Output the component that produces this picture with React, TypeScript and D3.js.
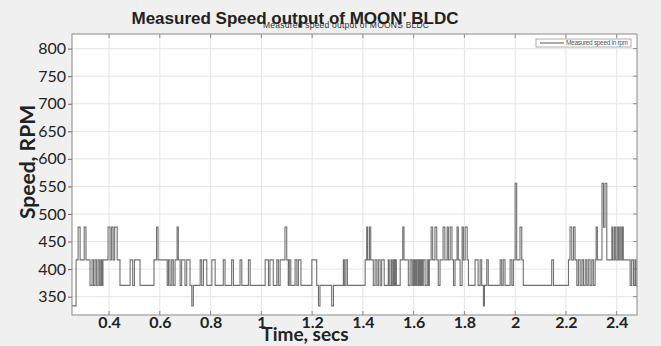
import React, { useRef, useEffect } from 'react'
import * as d3 from 'd3'

// step change points (seconds, rpm)
const times = [
  0.254, 0.270, 0.278, 0.286, 0.302, 0.309, 0.325, 0.333, 0.339, 0.345, 0.351, 0.357, 0.363, 0.368, 0.372, 0.376,
  0.396, 0.404, 0.410, 0.416, 0.422, 0.432, 0.443, 0.483, 0.493, 0.500, 0.522, 0.577, 0.587, 0.593, 0.629, 0.634,
  0.640, 0.647, 0.653, 0.660, 0.668, 0.673, 0.680, 0.686, 0.699, 0.706, 0.719, 0.726, 0.732, 0.759, 0.765, 0.772,
  0.785, 0.805, 0.818, 0.850, 0.857, 0.883, 0.890, 0.916, 0.923, 0.949, 0.956, 1.015, 1.028, 1.034, 1.047, 1.061,
  1.067, 1.074, 1.093, 1.100, 1.106, 1.110, 1.116, 1.133, 1.140, 1.146, 1.156, 1.199, 1.218, 1.225, 1.231, 1.277,
  1.284, 1.323, 1.327, 1.333, 1.339, 1.409, 1.415, 1.419, 1.426, 1.431, 1.441, 1.448, 1.455, 1.461, 1.468, 1.474,
  1.484, 1.500, 1.504, 1.511, 1.515, 1.520, 1.524, 1.528, 1.532, 1.547, 1.557, 1.562, 1.579, 1.586, 1.593, 1.598,
  1.602, 1.606, 1.610, 1.614, 1.619, 1.623, 1.627, 1.630, 1.634, 1.638, 1.645, 1.653, 1.658, 1.662, 1.669, 1.675,
  1.684, 1.691, 1.697, 1.704, 1.716, 1.723, 1.732, 1.737, 1.744, 1.751, 1.757, 1.763, 1.771, 1.776, 1.783, 1.791,
  1.796, 1.803, 1.811, 1.816, 1.842, 1.854, 1.862, 1.868, 1.875, 1.879, 1.888, 1.894, 1.941, 1.947, 1.953, 1.960,
  1.980, 1.987, 1.993, 2.000, 2.006, 2.019, 2.026, 2.032, 2.144, 2.151, 2.210, 2.216, 2.223, 2.230, 2.236, 2.243,
  2.249, 2.256, 2.263, 2.269, 2.276, 2.282, 2.288, 2.295, 2.302, 2.308, 2.315, 2.319, 2.324, 2.342, 2.348, 2.354,
  2.361, 2.381, 2.385, 2.391, 2.396, 2.402, 2.407, 2.412, 2.417, 2.422, 2.426, 2.453, 2.459, 2.466, 2.472, 2.476,
  2.480,
]
const speeds = [
  333.3, 416.7, 476.2, 416.7, 476.2, 416.7, 370.4, 416.7, 370.4, 416.7, 370.4, 416.7, 370.4, 416.7, 370.4, 416.7,
  476.2, 416.7, 476.2, 416.7, 476.2, 416.7, 370.4, 416.7, 370.4, 416.7, 370.4, 416.7, 476.2, 416.7, 370.4, 416.7,
  370.4, 416.7, 370.4, 416.7, 476.2, 416.7, 370.4, 416.7, 370.4, 416.7, 370.4, 333.3, 370.4, 416.7, 370.4, 416.7,
  370.4, 416.7, 370.4, 416.7, 370.4, 416.7, 370.4, 416.7, 370.4, 416.7, 370.4, 416.7, 370.4, 416.7, 370.4, 416.7,
  370.4, 416.7, 476.2, 416.7, 370.4, 416.7, 370.4, 416.7, 370.4, 416.7, 370.4, 416.7, 370.4, 333.3, 370.4, 333.3,
  370.4, 416.7, 370.4, 416.7, 370.4, 416.7, 476.2, 416.7, 476.2, 416.7, 370.4, 416.7, 370.4, 416.7, 370.4, 416.7,
  370.4, 416.7, 370.4, 416.7, 370.4, 416.7, 370.4, 416.7, 370.4, 416.7, 476.2, 416.7, 370.4, 416.7, 370.4, 416.7,
  370.4, 416.7, 370.4, 416.7, 370.4, 416.7, 370.4, 416.7, 370.4, 416.7, 370.4, 416.7, 370.4, 416.7, 476.2, 416.7,
  476.2, 416.7, 370.4, 416.7, 476.2, 416.7, 476.2, 416.7, 476.2, 416.7, 370.4, 416.7, 476.2, 416.7, 370.4, 476.2,
  416.7, 476.2, 416.7, 370.4, 416.7, 370.4, 416.7, 370.4, 333.3, 370.4, 416.7, 370.4, 416.7, 370.4, 416.7, 370.4,
  416.7, 370.4, 416.7, 555.6, 416.7, 476.2, 416.7, 370.4, 416.7, 370.4, 416.7, 476.2, 416.7, 476.2, 416.7, 370.4,
  416.7, 370.4, 416.7, 370.4, 416.7, 370.4, 416.7, 370.4, 416.7, 370.4, 416.7, 476.2, 416.7, 555.6, 476.2, 555.6,
  416.7, 476.2, 416.7, 476.2, 416.7, 476.2, 416.7, 476.2, 416.7, 476.2, 416.7, 370.4, 416.7, 370.4, 416.7, 370.4,
  370.4,
]

const xTicks = [0.4, 0.6, 0.8, 1, 1.2, 1.4, 1.6, 1.8, 2, 2.2, 2.4]
const yTicks = [350, 400, 450, 500, 550, 600, 650, 700, 750, 800]
const xDomain = [0.254, 2.48]
const yDomain = [316.7, 826.5]

const title = "Measured Speed output of MOON' BLDC"
const subTitle = 'Measured speed output of MOONS BLDC'
const legendLabel = 'Measured speed in rpm'

export default function App() {
  const svgRef = useRef<SVGSVGElement>(null)

  useEffect(() => {
    if (!svgRef.current) return
    const svg = d3.select(svgRef.current)
    svg.selectAll('*').remove()
    const width = 661
    const height = 346
    const margin = { top: 34, right: 24, bottom: 31, left: 72 }
    const w = width - margin.left - margin.right
    const h = height - margin.top - margin.bottom

    svg.append('rect').attr('width', width).attr('height', height).attr('fill', '#f0f0f0')

    const x = d3.scaleLinear().domain(xDomain).range([0, w])
    const y = d3.scaleLinear().domain(yDomain).range([h, 0])

    const g = svg.append('g').attr('transform', `translate(${margin.left},${margin.top})`)
    g.append('rect').attr('width', w).attr('height', h).attr('fill', '#fff')

    // grid
    g.append('g')
      .selectAll('line')
      .data(xTicks)
      .join('line')
      .attr('x1', d => x(d)).attr('x2', d => x(d))
      .attr('y1', 0).attr('y2', h)
      .attr('stroke', '#e4e4e4')
    g.append('g')
      .selectAll('line')
      .data(yTicks)
      .join('line')
      .attr('x1', 0).attr('x2', w)
      .attr('y1', d => y(d)).attr('y2', d => y(d))
      .attr('stroke', '#e4e4e4')

    // small tick marks on the frame
    g.append('g')
      .selectAll('line')
      .data(xTicks)
      .join('line')
      .attr('x1', d => x(d)).attr('x2', d => x(d))
      .attr('y1', 0).attr('y2', 4)
      .attr('stroke', '#888')
    g.append('g')
      .selectAll('line')
      .data(xTicks)
      .join('line')
      .attr('x1', d => x(d)).attr('x2', d => x(d))
      .attr('y1', h).attr('y2', h - 4)
      .attr('stroke', '#888')
    g.append('g')
      .selectAll('line')
      .data(yTicks)
      .join('line')
      .attr('x1', w).attr('x2', w - 4)
      .attr('y1', d => y(d)).attr('y2', d => y(d))
      .attr('stroke', '#888')

    // axes
    g.append('g')
      .call(d3.axisLeft(y).tickValues(yTicks).tickSize(4).tickPadding(2).tickFormat(d3.format('d')))
      .call(a => a.select('.domain').remove())
      .call(a => a.selectAll('line').attr('stroke', '#666'))
      .call(a => a.selectAll('text').attr('fill', '#222').style('font-family', 'Lato').style('font-size', '16px'))

    g.append('g')
      .attr('transform', `translate(0,${h})`)
      .call(d3.axisBottom(x).tickValues(xTicks).tickSize(0).tickPadding(2).tickFormat(d => String(d)))
      .call(a => a.select('.domain').remove())
      .call(a => a.selectAll('text').attr('fill', '#222').style('font-family', 'Lato').style('font-size', '16px').style('font-weight', 'bold'))

    // trace
    const line = d3.line<number>()
      .x((d, i) => x(times[i]))
      .y(d => y(d))
      .curve(d3.curveStepAfter)
    g.append('path')
      .datum(speeds)
      .attr('d', line)
      .attr('fill', 'none')
      .attr('stroke', '#707070')
      .attr('stroke-width', 1.1)

    // frame
    g.append('rect').attr('width', w).attr('height', h).attr('fill', 'none').attr('stroke', '#888')

    // legend
    const lg = g.append('g').attr('transform', `translate(${w - 101},5)`)
    lg.append('rect').attr('width', 95).attr('height', 8).attr('fill', '#fff').attr('stroke', '#999').attr('stroke-width', 0.8)
    lg.append('line').attr('x1', 4).attr('x2', 28).attr('y1', 4).attr('y2', 4).attr('stroke', '#555')
    lg.append('text').attr('x', 30).attr('y', 6.3)
      .attr('fill', '#555').style('font-family', 'Liberation Sans').style('font-size', '6.5px')
      .attr('textLength', 62).text(legendLabel)

    // titles
    svg.append('text').attr('x', 346).attr('y', 28).attr('text-anchor', 'middle')
      .attr('fill', '#333').style('font-family', 'Liberation Sans').style('font-size', '8.5px')
      .attr('textLength', 166).text(subTitle)
    svg.append('text').attr('x', 295).attr('y', 24).attr('text-anchor', 'middle')
      .attr('fill', '#222').style('font-family', 'Liberation Sans').style('font-size', '17px').style('font-weight', 'bold')
      .text(title)

    svg.append('text').attr('x', 305).attr('y', 341).attr('text-anchor', 'middle')
      .attr('fill', '#222').style('font-family', 'Lato').style('font-size', '19px').style('font-weight', 'bold')
      .text('Time, secs')
    svg.append('text').attr('transform', 'translate(35,162) rotate(-90)').attr('text-anchor', 'middle')
      .attr('fill', '#222').style('font-family', 'Lato').style('font-size', '21px').style('font-weight', 'bold')
      .text('Speed, RPM')
  }, [])

  return (
    <svg ref={svgRef} width={661} height={346}
      style={{ position: 'absolute', left: 0, top: 0, display: 'block' }} />
  )
}
